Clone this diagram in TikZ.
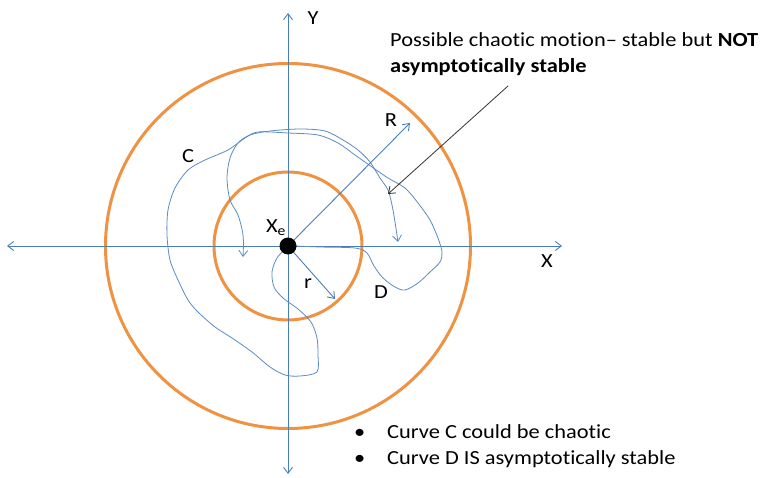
\documentclass[tikz,border=0pt]{standalone}
\usepackage{fontspec}
\setmainfont[RawFeature=-liga]{Carlito}
\usetikzlibrary{arrows.meta}
\definecolor{axisblue}{HTML}{4A7EBB}
\definecolor{curveblue}{HTML}{5B8BC4}
\definecolor{ringorange}{HTML}{EF9242}
\tikzset{
  axis/.style={draw=axisblue, line width=0.9pt, -{Straight Barb[length=6pt,width=9pt]}},
  ring/.style={draw=ringorange, line width=3pt},
  traj/.style={draw=curveblue, line width=0.8pt},
  lbl/.style={font=\fontsize{20}{24}\selectfont, inner sep=0pt, xscale=1.12},
  tipb/.style={-{Straight Barb[length=6pt,width=9pt]}},
}
\begin{document}
\begin{tikzpicture}[x=1pt,y=-1pt]
\useasboundingbox (0,0) rectangle (766,478);
% coordinates
\coordinate (c) at (288,246);
\coordinate (ytop) at (288,13);
\coordinate (ybot) at (288,474);
\coordinate (xl) at (7,246);
\coordinate (xr) at (562,246);
\coordinate (Rtip) at (410,123);
\coordinate (rtip) at (335,299);
% rings
\draw[ring] (c) circle (182.5);
\draw[ring] (c) circle (74);
% axes
\draw[axis] (c) -- (ytop);
\draw[axis] (c) -- (ybot);
\draw[axis] (c) -- (xl);
\draw[axis] (c) -- (xr);
% trajectories
\draw[traj] plot[smooth, tension=0.5] coordinates {(288,246)(277,258)(272,272)(274,287)(283,298)(298,309)(311,322)(317,338)(318,355)(317,372)(300,376)(285,375)(270,367)(252,352)(232,338)(215,327)(198,312)(188,300)(178,280)(170,260)(167,235)(168,210)(175,188)(188,170)(205,160)(228,150)(245,138)(258,132)(288,133)(318,135)(338,143)(355,155)(372,167)(388,178)(405,188)(418,203)(430,220)(438,238)(442,252)(440,262)(430,272)(418,283)(405,290)(395,287)(383,278)(374,266)(367,253)(355,248)(320,247)(295,246)};
\draw[traj, {Straight Barb[length=6pt,width=9pt]}-{Straight Barb[length=6pt,width=9pt]}] plot[smooth, tension=0.5] coordinates {(243,257)(243,235)(238,215)(230,200)(227,178)(230,158)(238,143)(250,135)(270,131)(300,129)(325,131)(343,140)(358,150)(370,162)(380,178)(388,190)(392,205)(395,222)(398,242)};
% radii
\draw[axis] (c) -- (Rtip);
\draw[axis] (c) -- (rtip);
% equilibrium point
\node[circle, fill=black, minimum size=17pt, inner sep=0pt] (xe) at (c) {};
% labels
\node[lbl] (ly) at (313,18) {Y};
\node[lbl] (lx) at (547,261) {X};
\node[lbl] (lR) at (391,120) {R};
\node[lbl] (lr) at (308,284) {r};
\node[lbl] (lC) at (188,156) {C};
\node[lbl] (lD) at (381,292) {D};
\node[lbl] (lxe) at (276,228) {X\textsubscript{e}};
% annotation
\node[lbl, anchor=base west, align=left] (note) at (390,47) {Possible chaotic motion– stable but \textbf{NOT}};
\node[lbl, anchor=base west] (note2) at (390,73) {\textbf{asymptotically stable}};
\coordinate (ns) at (508,86);
\coordinate (ne) at (388,194);
\draw[black!80, line width=0.8pt, tipb] (ns) -- (ne);
% bullets
\node[lbl, anchor=base west] (b1) at (354,438) {•};
\node[lbl, anchor=base west] (t1) at (387,438) {Curve C could be chaotic};
\node[lbl, anchor=base west] (b2) at (354,464) {•};
\node[lbl, anchor=base west] (t2) at (387,464) {Curve D IS asymptotically stable};
\end{tikzpicture}
\end{document}
